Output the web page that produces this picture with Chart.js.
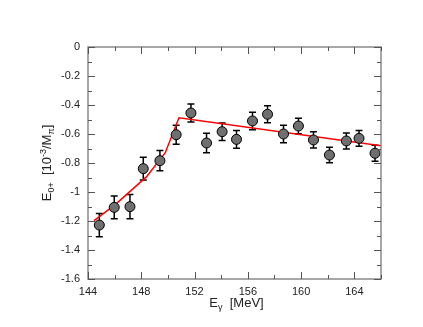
<!DOCTYPE html>
<html>
<head>
<meta charset="utf-8">
<script src="https://cdn.jsdelivr.net/npm/chart.js@4"></script>
<style>
  html, body { margin: 0; padding: 0; background: #fff; }
  #wrap { width: 423px; height: 327px; }
</style>
</head>
<body>
<div id="wrap"><canvas id="myChart" width="423" height="327"></canvas></div>
<script>
// measured points
var energies = [144.85, 145.97, 147.15, 148.15, 149.4, 150.62, 151.73, 152.9, 154.07, 155.15,
                156.35, 157.48, 158.68, 159.8, 160.93, 162.13, 163.4, 164.35, 165.55];
var e0plus = [-1.228, -1.106, -1.101, -0.839, -0.784, -0.605, -0.455, -0.662, -0.584, -0.637,
              -0.51, -0.464, -0.60, -0.545, -0.641, -0.745, -0.648, -0.63, -0.733];
var errors = [0.08, 0.078, 0.084, 0.078, 0.07, 0.065, 0.062, 0.067, 0.06, 0.061,
              0.06, 0.059, 0.06, 0.054, 0.056, 0.053, 0.055, 0.055, 0.055];

// fit curve
var fitE = [144.45, 146.0, 148.4, 149.8, 150.83, 166];
var fitV = [-1.198, -1.09, -0.894, -0.729, -0.488, -0.681];

var xTicks = [144, 148, 152, 156, 160, 164];
var yTicks = [0, -0.2, -0.4, -0.6, -0.8, -1, -1.2, -1.4, -1.6];

var FONT = '"Liberation Sans", Arial, sans-serif';

var errorBars = {
  id: 'errorBars',
  beforeDatasetsDraw: function(chart) {
    var c = chart.ctx, xs = chart.scales.x, ys = chart.scales.y;
    c.save();
    c.strokeStyle = '#000';
    c.lineWidth = 1.5;
    for (var i = 0; i < energies.length; i++) {
      var px = xs.getPixelForValue(energies[i]);
      var top = ys.getPixelForValue(e0plus[i] + errors[i]);
      var bot = ys.getPixelForValue(e0plus[i] - errors[i]);
      c.beginPath();
      c.moveTo(px, top); c.lineTo(px, bot);
      c.moveTo(px - 3.5, top); c.lineTo(px + 3.5, top);
      c.moveTo(px - 3.5, bot); c.lineTo(px + 3.5, bot);
      c.stroke();
    }
    c.restore();
  }
};

var frame = {
  id: 'frame',
  afterDraw: function(chart) {
    var c = chart.ctx, a = chart.chartArea, xs = chart.scales.x, ys = chart.scales.y;
    c.save();
    c.strokeStyle = '#8a8a8a';
    c.lineWidth = 1.5;
    c.strokeRect(a.left, a.top, a.right - a.left, a.bottom - a.top);
    c.lineWidth = 1;
    c.strokeStyle = '#555';
    c.beginPath();
    for (var v = 144; v <= 166; v += 2) {
      var px = Math.round(xs.getPixelForValue(v)) + 0.5;
      var len = (v % 4 === 0) ? 7 : 4;
      c.moveTo(px, a.bottom); c.lineTo(px, a.bottom - len);
      c.moveTo(px, a.top); c.lineTo(px, a.top + len);
    }
    for (var k = 0; k <= 16; k++) {
      var val = -k * 0.1;
      var py = Math.round(ys.getPixelForValue(val)) + 0.5;
      var l = (k % 2 === 0) ? 7 : 4;
      c.moveTo(a.left, py); c.lineTo(a.left + l, py);
      c.moveTo(a.right, py); c.lineTo(a.right - l, py);
    }
    c.stroke();

    // axis titles with sub/superscripts
    c.fillStyle = '#222';
    c.textBaseline = 'alphabetic';
    var big = '13px ' + FONT, small = '9px ' + FONT;
    function run(parts, x, y) {
      parts.forEach(function(p) {
        c.font = p[1] ? small : big;
        c.fillText(p[0], x, y + (p[1] === 'sub' ? 3 : p[1] === 'sup' ? -5 : 0));
        x += c.measureText(p[0]).width;
      });
      return x;
    }
    function width(parts) {
      var w = 0;
      parts.forEach(function(p) { c.font = p[1] ? small : big; w += c.measureText(p[0]).width; });
      return w;
    }
    var xt = [['E'], ['\u03b3', 'sub'], ['  [MeV]']];
    var cx = (a.left + a.right) / 2;
    run(xt, cx - width(xt) / 2 + 2, 307);

    var yt = [['E'], ['0+', 'sub'], ['  [10'], ['-3', 'sup'], ['/M'], ['\u03c0', 'sub'], [']']];
    c.save();
    c.translate(51, (a.top + a.bottom) / 2);
    c.rotate(-Math.PI / 2);
    run(yt, -width(yt) / 2, 0);
    c.restore();
    c.restore();
  }
};

var ctx = document.getElementById('myChart').getContext('2d');
var myChart = new Chart(ctx, {
  type: 'scatter',
  data: {
    datasets: [{
      label: 'data',
      data: energies.map(function(e, i) { return { x: e, y: e0plus[i] }; }),
      backgroundColor: '#6f6f6f',
      borderColor: '#000',
      borderWidth: 1,
      pointRadius: 5
    }, {
      label: 'fit',
      type: 'line',
      data: fitE.map(function(e, i) { return { x: e, y: fitV[i] }; }),
      borderColor: '#ff0000',
      borderWidth: 1.5,
      pointRadius: 0,
      fill: false,
      tension: 0
    }]
  },
  options: {
    responsive: false,
    animation: false,
    layout: { padding: { top: 47, right: 42, left: 0, bottom: 0 } },
    plugins: { legend: { display: false }, tooltip: { enabled: false } },
    scales: {
      x: {
        type: 'linear',
        min: 144, max: 166,
        afterBuildTicks: function(s) { s.ticks = xTicks.map(function(v) { return { value: v }; }); },
        afterFit: function(s) { s.height = 48; },
        grid: { display: false, drawTicks: false },
        border: { display: false },
        ticks: { padding: 6, maxRotation: 0, color: '#222', font: { family: FONT, size: 11 } }
      },
      y: {
        min: -1.6, max: 0,
        afterBuildTicks: function(s) { s.ticks = yTicks.map(function(v) { return { value: v }; }); },
        afterFit: function(s) { s.width = 88; },
        grid: { display: false, drawTicks: false },
        border: { display: false },
        ticks: {
          padding: 8, color: '#222', font: { family: FONT, size: 11 },
          callback: function(value) { return String(Math.round(value * 10) / 10); }
        }
      }
    }
  },
  plugins: [errorBars, frame]
});
</script>
</body>
</html>
